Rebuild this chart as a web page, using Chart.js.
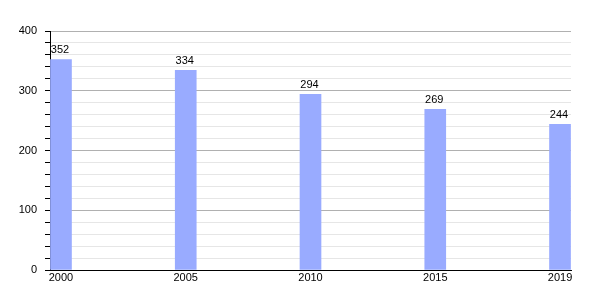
<!DOCTYPE html>
<html>
<head>
<meta charset="utf-8">
<script src="https://cdn.jsdelivr.net/npm/chart.js@4/dist/chart.umd.min.js"></script>
<style>
  html, body { margin: 0; padding: 0; background: #fff; }
  #wrap { width: 600px; height: 300px; }
</style>
</head>
<body>
<div id="wrap"><canvas id="popChart"></canvas></div>
<script>
const years = ['2000', '2005', '2010', '2015', '2019'];
const population = [352, 334, 294, 269, 244];

document.addEventListener('DOMContentLoaded', function() {
    const ctx = document.getElementById('popChart');

    // valeurs affichées au-dessus des barres
    const barLabels = {
        id: 'barLabels',
        afterDatasetsDraw(chart) {
            const c = chart.ctx;
            const meta = chart.getDatasetMeta(0);
            c.save();
            c.font = '11px "Liberation Sans", Arial, sans-serif';
            c.fillStyle = '#000';
            c.textAlign = 'center';
            c.textBaseline = 'bottom';
            meta.data.forEach((bar, i) => {
                c.fillText(String(population[i]), bar.x - 1, bar.y - 4);
            });
            c.restore();
        }
    };

    new Chart(ctx, {
        type: 'bar',
        data: {
            datasets: [{
                data: population.map((v, i) => ({ x: i, y: v })),
                backgroundColor: '#99abff',
                barThickness: 21,
                borderWidth: 0
            }]
        },
        plugins: [barLabels],
        options: {
            responsive: true,
            maintainAspectRatio: false,
            animation: false,
            layout: { padding: { top: 31, right: 29, left: 0, bottom: 0 } },
            plugins: {
                legend: { display: false },
                tooltip: { enabled: false }
            },
            scales: {
                x: {
                    type: 'linear',
                    offset: false,
                    min: -0.088,
                    max: 4.088,
                    afterBuildTicks: axis => {
                        axis.ticks = years.map((y, i) => ({ value: i }));
                    },
                    afterFit: axis => { axis.height = 30; },
                    ticks: {
                        callback: (v) => years[v],
                        color: '#000',
                        font: { family: '"Liberation Sans", Arial, sans-serif', size: 11 },
                        padding: 1,
                        maxRotation: 0,
                        autoSkip: false
                    },
                    grid: { display: false, drawTicks: false, offset: false },
                    border: { display: true, color: '#000', width: 1 }
                },
                y: {
                    min: 0,
                    max: 400,
                    afterFit: axis => { axis.width = 50; },
                    ticks: {
                        stepSize: 20,
                        autoSkip: false,
                        callback: v => (v % 100 === 0 ? v : ''),
                        color: '#000',
                        font: { family: '"Liberation Sans", Arial, sans-serif', size: 11 },
                        padding: 8
                    },
                    grid: {
                        color: c => (c.tick && c.tick.value % 100 === 0 ? '#b0b0b0' : '#e6e6e6'),
                        tickColor: '#000',
                        tickLength: 5,
                        lineWidth: 1
                    },
                    border: { display: true, color: '#000', width: 1 }
                }
            }
        }
    });
});
</script>
</body>
</html>
